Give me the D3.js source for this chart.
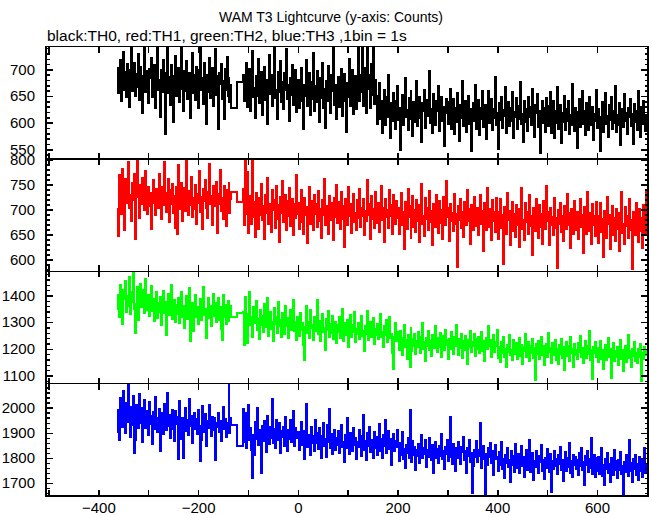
<!DOCTYPE html>
<html><head><meta charset="utf-8">
<script src="https://cdn.jsdelivr.net/npm/d3@7"></script>
<style>body{margin:0;background:#fff}</style>
</head><body>
<svg id="c" width="652" height="515"></svg>
<script>
// ---------- DATA ----------
const titleText = "WAM T3 Lightcurve (y-axis: Counts)";
const subtitleText = "black:TH0, red:TH1, green:TH2, blue:TH3 ,1bin = 1s";
const binWidth = 2;          // seconds per plotted bin
const leftStart = -363;      // first bin time of first segment
const gapStarts = [-133, -122];
const rightStart = -110;     // first bin time of second segment
const endTime = 700;

const th0Left = [702,655,690,718,641,680,733,662,695,648,710,675,629,698,745,660,684,712,650,691,
667,728,643,705,676,619,688,740,658,697,672,636,701,684,722,649,666,708,627,690,
745,662,680,611,699,657,718,673,578,694,752,655,686,633,709,671,601,688,725,650,
679,702,638,664,741,683,622,697,659,716,645,676,694,608,670,731,656,689,642,705,
668,627,699,749,661,684,635,712,677,598,690,658,722,646,681,703,631,666,738,652,
687,588,694,673,711,644,679,606,700,662,724,651,683,639,670];
const th0Gap = [628, 676];
const th0Right = [690,641,668,712,630,659,700,622,676,735,648,665,609,688,651,720,637,674,696,615,
660,705,642,681,598,668,727,653,689,631,671,744,646,662,606,695,658,716,639,677,
625,693,661,738,644,670,603,684,652,709,633,667,698,620,656,
681,627,662,703,640,588,671,650,718,632,659,693,614,676,645,730,621,668,639,697,
655,602,684,646,712,628,663,590,678,641,706,653,619,689,660,742,634,671,607,650,
686,629,667,701,613,656,692,640,583,674,648,720,631,662,699,617,653,688,625,670,
745,640,690,658,760,631,676,702,618,750,664,689,627,711,652,748,635,680,
650,598,633,674,607,641,580,620,662,595,648,611,690,628,572,637,603,655,616,589,
640,669,605,627,548,618,652,596,634,683,611,624,587,646,607,660,620,575,639,602,
629,678,594,615,648,609,563,636,621,661,590,643,612,632,697,600,625,581,654,617,
596,640,622,668,585,613,649,604,630,557,619,645,
638,597,620,664,589,611,645,578,627,601,656,615,566,633,608,679,594,622,641,583,
610,650,598,625,547,617,636,603,671,588,619,642,577,628,606,659,592,614,634,570,
621,660,599,613,644,586,626,609,685,596,618,551,637,605,648,590,623,612,667,580,
615,639,594,628,603,657,571,620,611,646,589,632,607,676,597,616,563,640,602,625,
585,649,610,629,596,663,608,574,634,618,653,592,621,544,612,641,600,627,582,646,
631,593,614,658,580,606,640,572,621,600,667,589,612,634,561,618,601,650,587,625,
603,641,579,615,596,672,610,584,628,607,553,620,644,592,611,659,598,622,576,636,
608,586,649,613,595,630,567,617,604,662,590,625,611,546,601,639,583,619,656,597,
612,574,633,605,648,589,621,600,668,582,614,596,637,559,609,626,591,653,603,618,
579,627,610,645,594,616,560,635,602,621,587,660,608,573,629,597,641,604,585,615];

const th1Left = [700,646,768,722,690,781,735,658,760,712,742,795,703,729,676,752,718,770,640,738,
810,724,683,749,710,763,731,698,777,715,690,744,706,733,661,726,758,712,689,740,
718,702,770,727,681,745,709,795,732,694,721,760,674,738,711,750,692,727,663,744,
650,789,728,700,753,676,719,742,697,808,724,688,736,708,765,684,722,701,748,671,
730,712,776,695,725,660,741,717,758,703,683,734,790,711,726,669,747,706,721,755,
652,731,710,778,697,723,680,746,714,666,738,704,752,693,720];
const th1Gap = [734, 714];
const th1Right = [740,668,805,690,775,652,703,726,671,798,684,715,645,733,697,660,722,688,750,678,
706,640,729,693,762,670,711,685,655,738,699,719,663,746,681,708,634,725,692,757,
674,701,728,659,716,687,743,666,698,720,648,711,683,769,690,
712,661,694,738,675,650,722,689,705,632,697,744,670,716,683,658,729,691,710,664,
736,677,700,643,719,688,761,668,706,692,651,727,679,713,695,638,722,684,749,672,
698,715,660,734,681,706,625,720,690,669,745,686,711,653,699,730,674,692,658,718,
683,741,665,702,687,720,648,697,676,758,689,710,641,726,680,701,663,735,694,672,
712,655,690,747,678,703,634,721,685,699,662,739,687,708,651,728,690,671,716,682,
702,651,689,733,668,695,620,714,679,660,741,684,706,643,690,727,665,698,655,719,
676,709,634,692,750,670,686,646,722,681,703,659,737,675,696,628,711,683,664,729,
688,652,717,673,699,641,724,680,668,756,685,702,637,710,677,693,657,731,671,690,
585,706,678,721,662,694,645,715,686,669,738,676,700,631,708,682,659,725,690,667,
703,648,684,729,671,696,616,712,680,658,743,687,665,701,639,719,677,694,654,723,
695,640,676,721,663,688,590,704,672,650,733,679,697,628,685,714,657,690,645,709,
668,700,624,683,742,661,678,638,713,674,695,650,728,667,686,608,703,675,656,720,
680,643,708,665,691,631,716,672,660,747,677,694,629,702,669,685,648,723,663,682,
582,698,671,712,654,686,637,706,678,661,730,668,692,622,700,674,651,717,683,659,
695,640,677,721,664,689,613,705,673,651,734,680,657,693,630,711,669,686,646,715,
687,632,668,713,655,680,604,697,664,642,725,671,689,620,677,706,649,682,637,701,
660,692,616,675,734,653,670,630,705,666,687,642,720,659,678,580,695,667,648,712,
672,635,700,657,683,623,708,664,652,739];

const th2Left = [1350,1402,1318,1440,1371,1295,1422,1386,1455,1340,1398,1362,1470,1330,1415,1376,1488,1351,1258,1367,
1432,1310,1394,1445,1358,1420,1381,1336,1463,1390,1347,1401,1322,1378,1436,1343,1388,1305,1367,1412,
1316,1372,1340,1395,1290,1361,1418,1333,1376,1251,1350,1404,1327,1369,1438,1312,1357,1385,1302,1366,
1332,1390,1297,1351,1414,1320,1362,1280,1343,1398,1312,1355,1427,1228,1347,1372,1268,1339,1401,1318,
1358,1294,1341,1386,1309,1365,1432,1327,1350,1242,1337,1392,1316,1360,1286,1345,1406,1322,1371,1300,
1343,1389,1310,1356,1276,1232,1402,1319,1364,1295,1349,1378,1306,1340,1360];
const th2Gap = [1319, 1334];
const th2Right = [1340,1215,1395,1302,1222,1330,1412,1288,1319,1246,1358,1297,1327,1380,1270,1312,1236,1345,1291,1323,
1264,1368,1305,1281,1390,1248,1316,1338,1275,1300,1229,1352,1294,1321,1260,1375,1286,1310,1245,1333,
1298,1255,1362,1284,1317,1240,1306,1346,1272,1291,1384,1265,1302,1233,1320,
1310,1248,1335,1272,1296,1215,1158,1283,1360,1259,1301,1240,1346,1278,1290,1232,1318,1265,1297,1382,
1254,1306,1228,1287,1331,1262,1280,1195,1313,1270,1342,1246,1294,1258,1325,1237,1276,1301,1220,1289,
1262,1318,1241,1283,1350,1230,1271,1296,1252,1310,1208,1268,1327,1245,1288,1263,1339,1225,1274,1255,
1297,1238,1279,1322,1249,1266,1190,1287,1255,1341,1232,1270,1302,1243,1260,1316,1218,1275,1251,1293,
1236,1280,1330,1244,1262,1205,1284,1250,1308,1227,1266,1320,1240,1257,1183,1125,1246,1298,1231,1263,
1248,1196,1265,1220,1175,1240,1290,1207,1233,1162,1252,1214,1132,1278,1190,1236,1210,1256,1181,1230,
1205,1262,1217,1185,1244,1298,1200,1226,1153,1239,1212,1265,1194,1231,1172,1250,1219,1203,1284,1227,
1188,1241,1208,1259,1170,1225,1247,1196,1270,1214,1232,1160,1238,1201,1263,1222,1180,1245,1211,1291,
1216,1177,1237,1203,1254,1165,1229,1195,1248,1220,1142,1233,1206,1268,1187,1225,1212,1257,1174,1235,
1200,1246,1183,1224,1262,1192,1230,1155,1218,1240,1199,1286,1211,1234,1168,1221,1251,1189,1227,1209,
1272,1165,1208,1150,1226,1183,1243,1170,1201,1130,1214,1188,1250,1176,1196,1158,1232,1205,1179,1221,
1161,1198,1240,1173,1215,1142,1207,1190,1255,1168,1195,1224,1153,1211,1183,1238,1166,1202,1082,1219,
1180,1228,1162,1197,1246,1175,1209,1139,1193,1217,1169,1261,1187,1204,1148,1222,1191,1176,1234,1158,
1199,1143,1213,1181,1236,1167,1205,1120,1189,1227,1174,1210,1156,1244,1185,1200,1132,1218,1177,1196,
1163,1220,1188,1247,1171,1203,1145,1192,1230,1166,1212,1182,1265,1159,1197,1085,1208,1184,1225,1170,
1204,1150,1188,1229,1162,1196,1125,1183,1216,1157,1173,1240,1168,1199,1090,1186,1222,1153,1191,1170,
1208,1140,1180,1234,1163,1195,1118,1177,1212,1149,1187,1250,1166,1190,1132,1201,1174,1226,1155,1184,
1147,1198,1171,1219,1080,1185,1160,1207,1176,1193];

const th3Left = [1905,1990,1872,2040,1950,1925,2065,1980,1898,2018,1944,2090,1962,1885,2003,1931,2048,1818,1870,2012,
1976,1918,2055,1940,1999,1863,1967,2030,1921,1985,1948,1890,2022,1935,1965,1856,1982,1914,2041,1952,
1903,1960,1995,1826,1938,1978,1895,2015,1945,1910,2060,1929,1970,1881,1953,1992,1917,1868,1985,1936,
1964,1795,2027,1942,1877,1958,1800,1933,1998,1909,1951,1891,2035,1926,1967,1860,1943,1980,1915,1956,
1895,1990,1928,1788,1872,2008,1937,1904,1975,1849,1946,1919,2012,1932,1888,1962,1910,1957,1790,1941,
1922,1980,1905,1948,1868,1933,2002,1916,1955,1883,1940,1940,2100,1900,1958];
const th3Gap = [1930, 1847];
const th3Right = [1995,1862,1978,1840,1905,2010,1870,1921,1833,1720,1890,1812,1944,1876,1998,1851,1912,1880,1740,1929,
1866,1947,1893,1823,1968,1902,1855,1925,1881,2035,1860,1916,1838,1952,1899,1872,1940,1819,1907,1884,
1925,1846,1963,1892,1828,1910,1875,1950,1862,1903,1986,1848,1918,1880,1897,
1902,1830,1880,1945,1852,1908,1796,1870,2015,1843,1890,1866,1812,1925,1858,1887,1826,1952,1861,1899,
1835,1918,1872,1800,1886,1940,1848,1877,1805,1930,1863,1996,1840,1895,1817,1868,1912,1831,1881,1852,
1906,1820,1873,1932,1845,1862,1782,1890,1838,1960,1857,1815,1900,1869,1829,1921,1851,1880,1797,1865,
1842,1913,1856,1808,1888,1972,1833,1866,1790,1898,1846,1925,1822,1871,1850,1800,1905,1839,1882,1813,
1860,1935,1827,1874,1801,1892,1848,1950,1818,1862,1906,1835,1875,1772,1853,1897,1826,1868,1842,1910,
1845,1788,1860,1812,1905,1795,1834,1760,1852,1820,1878,1801,1990,1826,1785,1868,1810,1842,1753,1830,
1806,1857,1778,1825,1890,1798,1840,1815,1870,1765,1832,1803,1880,1822,1790,1851,1738,1818,1862,1800,
1836,1781,1848,1809,1896,1794,1827,1755,1843,1816,1870,1789,1833,1962,1804,1776,1855,1820,1747,1838,
1798,1863,1812,1777,1845,1822,1885,1790,1828,1741,1839,1806,1873,1784,1819,1660,1768,1831,1802,1866,
1785,1830,1808,1940,1761,1824,1846,1796,1655,1815,1772,1841,1803,1860,1780,1826,1733,1811,1852,1794,
1805,1748,1822,1770,1863,1755,1796,1720,1812,1781,1840,1762,1790,1705,1828,1773,1809,1742,1855,1786,
1760,1815,1738,1791,1848,1767,1802,1725,1784,1830,1752,1797,1870,1744,1779,1818,1710,1789,1763,1826,
1771,1738,1808,1783,1852,1749,1793,1716,1800,1761,1835,1775,1742,1816,1662,1788,1757,1827,1768,1795,
1735,1810,1776,1845,1752,1790,1708,1782,1822,1746,1798,1764,1860,1741,1786,1725,1813,1770,1803,1755,
1792,1732,1819,1766,1840,1750,1785,1690,1807,1773,1829,1745,1796,1760,1880,1737,1781,1812,1722,1798,
1748,1805,1735,1782,1840,1727,1770,1690,1795,1756,1818,1741,1777,1705,1801,1762,1730,1830,1752,1786,
1718,1793,1750,1822,1735,1768,1655,1785,1743,1810,1760,1728,1870,1747,1780,1702,1796,1757,1812,1733,
1776,1712,1805,1748,1790,1725,1762,1838,1740,1771];

const seriesColors = ["#000000", "#ff0000", "#00ff00", "#0000ff"];
const yDomains = [[532, 743], [576, 801], [1069, 1491], [1647, 2096]];
const yTickLabels = [[550, 600, 650, 700], [600, 650, 700, 750, 800], [1100, 1200, 1300, 1400], [1700, 1800, 1900, 2000]];
const yMinorSteps = [10, 10, 20, 20];
const xDomain = [-505, 702.3];
const xTickValues = [-500, -400, -300, -200, -100, 0, 100, 200, 300, 400, 500, 600, 700];
const xTickLabels = [-400, -200, 0, 200, 400, 600];

// ---------- LAYOUT ----------
const plotLeft = 46, plotRight = 648, plotTop = 46.5, panelH = 112.4;
const FONT = "'Liberation Sans', Arial, Helvetica, sans-serif";
const svg = d3.select("#c");
const x = d3.scaleLinear().domain(xDomain).range([plotLeft, plotRight]);

function buildSeries(left, gap, right) {
  const pts = [];
  left.forEach((v, i) => pts.push({ t: leftStart + i * binWidth, v }));
  gap.forEach((v, i) => pts.push({ t: gapStarts[i], v }));
  right.forEach((v, i) => pts.push({ t: rightStart + i * binWidth, v }));
  pts.push({ t: endTime, v: right[right.length - 1] });
  return pts;
}
const allSeries = [
  buildSeries(th0Left, th0Gap, th0Right),
  buildSeries(th1Left, th1Gap, th1Right),
  buildSeries(th2Left, th2Gap, th2Right),
  buildSeries(th3Left, th3Gap, th3Right)
];

const defs = svg.append("defs");

allSeries.forEach((data, k) => {
  const top = plotTop + k * panelH, bottom = top + panelH;
  const y = d3.scaleLinear().domain(yDomains[k]).range([bottom, top]);
  const clipId = "clip" + k;
  defs.append("clipPath").attr("id", clipId).append("rect")
    .attr("x", plotLeft).attr("y", top).attr("width", plotRight - plotLeft).attr("height", panelH);

  svg.append("path").datum(data)
    .attr("clip-path", `url(#${clipId})`)
    .attr("fill", "none").attr("stroke", seriesColors[k]).attr("stroke-width", 2)
    .attr("shape-rendering", "crispEdges")
    .attr("d", d3.line().x(d => x(d.t)).y(d => y(d.v)).curve(d3.curveStepAfter));

  const minorVals = d3.range(Math.ceil(yDomains[k][0] / yMinorSteps[k]) * yMinorSteps[k], yDomains[k][1], yMinorSteps[k]);

  const gmL = svg.append("g").attr("transform", `translate(${plotLeft},0)`)
    .call(d3.axisLeft(y).tickValues(minorVals).tickSize(-3.5).tickFormat(""));
  const gmR = svg.append("g").attr("transform", `translate(${plotRight},0)`)
    .call(d3.axisRight(y).tickValues(minorVals).tickSize(-3.5).tickFormat(""));
  const gL = svg.append("g").attr("transform", `translate(${plotLeft},0)`)
    .call(d3.axisLeft(y).tickValues(yTickLabels[k]).tickSize(-7).tickPadding(11).tickFormat(d3.format("d")));
  const gR = svg.append("g").attr("transform", `translate(${plotRight},0)`)
    .call(d3.axisRight(y).tickValues(yTickLabels[k]).tickSize(-7).tickFormat(""));
  const gT = svg.append("g").attr("transform", `translate(0,${top})`)
    .call(d3.axisTop(x).tickValues(xTickValues).tickSize(-6).tickFormat(""));
  const gB = svg.append("g").attr("transform", `translate(0,${bottom})`)
    .call(d3.axisBottom(x).tickValues(xTickValues).tickSize(-6).tickPadding(6)
      .tickFormat(d => (k === 3 && xTickLabels.includes(d)) ? d3.format("d")(d) : ""));

  [gmL, gmR, gL, gR, gT, gB].forEach(g => {
    g.select(".domain").remove();
    g.attr("font-family", FONT).attr("font-size", 15);
    g.selectAll("line").attr("stroke", "#000").attr("stroke-width", 1.5).attr("shape-rendering", "crispEdges");
    g.selectAll("text").attr("fill", "#000");
  });

  svg.append("rect").attr("x", plotLeft).attr("y", top).attr("width", plotRight - plotLeft).attr("height", panelH)
    .attr("fill", "none").attr("stroke", "#000").attr("stroke-width", 1.5).attr("shape-rendering", "crispEdges");
});

svg.append("text").attr("x", 331).attr("y", 22).attr("text-anchor", "middle")
  .attr("font-family", FONT).attr("font-size", 14).attr("fill", "#000").text(titleText);
svg.append("text").attr("x", 47).attr("y", 41)
  .attr("font-family", FONT).attr("font-size", 15.5).attr("fill", "#000").text(subtitleText);
</script>
</body></html>
